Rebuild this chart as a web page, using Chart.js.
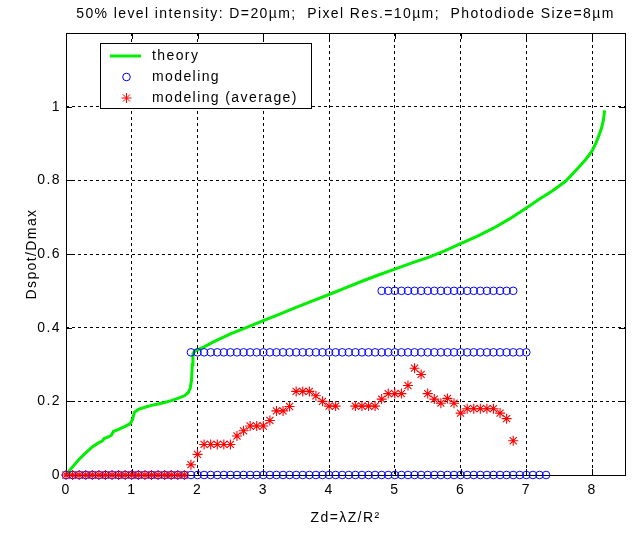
<!DOCTYPE html>
<html>
<head>
<meta charset="utf-8">
<title>Dspot/Dmax vs Zd</title>
<script src="https://cdn.jsdelivr.net/npm/chart.js@4/dist/chart.umd.min.js"></script>
<style>
  html, body { margin: 0; padding: 0; background: #fff; }
  #wrap { width: 632px; height: 533px; }
</style>
</head>
<body>
<div id="wrap"><canvas id="spotChart" width="632" height="533"></canvas></div>
<script>
// Normalised spot size against Zd = lambda*Z/R^2
const FONT = "'Liberation Sans', Arial, Helvetica, sans-serif";
const LETTER_SPACING = '1.4px';

// theory curve
const theoryZd = [0.02, 0.1, 0.2, 0.3, 0.4, 0.5, 0.55, 0.58, 0.65, 0.69, 0.72, 0.8, 0.9, 0.98, 1.01, 1.04,
  1.1, 1.2, 1.3, 1.4, 1.5, 1.6, 1.7, 1.8, 1.86, 1.89, 1.91, 1.92, 1.93, 1.95, 2.0, 2.1, 2.25, 2.5, 2.75,
  3.0, 3.25, 3.5, 3.75, 4.0, 4.25, 4.5, 4.75, 5.0, 5.25, 5.5, 5.75, 6.0, 6.25, 6.5, 6.75, 7.0, 7.2, 7.4,
  7.6, 7.8, 7.9, 8.0, 8.05, 8.1, 8.14, 8.17, 8.19];
const theoryD = [0.005, 0.022, 0.043, 0.06, 0.076, 0.088, 0.092, 0.099, 0.104, 0.108, 0.118, 0.124, 0.132, 0.14, 0.15, 0.17,
  0.178, 0.184, 0.189, 0.193, 0.197, 0.202, 0.208, 0.215, 0.224, 0.236, 0.26, 0.3, 0.328, 0.335, 0.34, 0.348, 0.362, 0.383, 0.401,
  0.419, 0.437, 0.455, 0.473, 0.49, 0.508, 0.526, 0.543, 0.559, 0.575, 0.59, 0.608, 0.628, 0.648, 0.67, 0.696, 0.725, 0.749, 0.772,
  0.798, 0.836, 0.856, 0.88, 0.898, 0.92, 0.94, 0.962, 0.99];

// sampled Zd positions for the modeling runs
const zd = [
  0.0, 0.1, 0.2, 0.3, 0.4, 0.5, 0.6, 0.7, 0.8, 0.9,
  1.0, 1.1, 1.2, 1.3, 1.4, 1.5, 1.6, 1.7, 1.8, 1.9,
  2.0, 2.1, 2.2, 2.3, 2.4, 2.5, 2.6, 2.7, 2.8, 2.9,
  3.0, 3.1, 3.2, 3.3, 3.4, 3.5, 3.6, 3.7, 3.8, 3.9,
  4.0, 4.1, 4.2, 4.3, 4.4, 4.5, 4.6, 4.7, 4.8, 4.9,
  5.0, 5.1, 5.2, 5.3, 5.4, 5.5, 5.6, 5.7, 5.8, 5.9,
  6.0, 6.1, 6.2, 6.3, 6.4, 6.5, 6.6, 6.7, 6.8, 6.9,
  7.0, 7.1, 7.2, 7.3
];
const _ = null;
const modelingLow = [
  0, 0, 0, 0, 0, 0, 0, 0, 0, 0,
  0, 0, 0, 0, 0, 0, 0, 0, 0, 0,
  0, 0, 0, 0, 0, 0, 0, 0, 0, 0,
  0, 0, 0, 0, 0, 0, 0, 0, 0, 0,
  0, 0, 0, 0, 0, 0, 0, 0, 0, 0,
  0, 0, 0, 0, 0, 0, 0, 0, 0, 0,
  0, 0, 0, 0, 0, 0, 0, 0, 0, 0,
  0, 0, 0, 0
];
const modelingMid = [
  _, _, _, _, _, _, _, _, _, _,
  _, _, _, _, _, _, _, _, _, 0.333,
  0.333, 0.333, 0.333, 0.333, 0.333, 0.333, 0.333, 0.333, 0.333, 0.333,
  0.333, 0.333, 0.333, 0.333, 0.333, 0.333, 0.333, 0.333, 0.333, 0.333,
  0.333, 0.333, 0.333, 0.333, 0.333, 0.333, 0.333, 0.333, 0.333, 0.333,
  0.333, 0.333, 0.333, 0.333, 0.333, 0.333, 0.333, 0.333, 0.333, 0.333,
  0.333, 0.333, 0.333, 0.333, 0.333, 0.333, 0.333, 0.333, 0.333, 0.333,
  0.333, _, _, _
];
const modelingHigh = [
  _, _, _, _, _, _, _, _, _, _,
  _, _, _, _, _, _, _, _, _, _,
  _, _, _, _, _, _, _, _, _, _,
  _, _, _, _, _, _, _, _, _, _,
  _, _, _, _, _, _, _, _, 0.5, 0.5,
  0.5, 0.5, 0.5, 0.5, 0.5, 0.5, 0.5, 0.5, 0.5, 0.5,
  0.5, 0.5, 0.5, 0.5, 0.5, 0.5, 0.5, 0.5, 0.5, _,
  _, _, _, _
];
const modelingAvg = [
  0, 0, 0, 0, 0, 0, 0, 0, 0, 0,
  0, 0, 0, 0, 0, 0, 0, 0, 0, 0.028,
  0.056, 0.083, 0.083, 0.083, 0.083, 0.083, 0.106, 0.12, 0.133, 0.133,
  0.133, 0.148, 0.174, 0.174, 0.186, 0.227, 0.227, 0.227, 0.215, 0.2,
  0.187, 0.187, _, _, 0.187, 0.187, 0.187, 0.187, 0.206, 0.221,
  0.221, 0.221, 0.243, 0.29, 0.273, 0.221, 0.206, 0.195, 0.208, 0.195,
  0.168, 0.18, 0.18, 0.18, 0.18, 0.18, 0.168, 0.153, 0.093, _,
  _, _, _, _
];

const xTicks = [0, 1, 2, 3, 4, 5, 6, 7, 8];
const yTicks = [0, 0.2, 0.4, 0.6, 0.8, 1];
const yTickLabels = ['0', '0.2', '0.4', '0.6', '0.8', '1'];

const chartTitle = '50% level intensity: D=20\u00b5m;  Pixel Res.=10\u00b5m;  Photodiode Size=8\u00b5m';

function toPoints(xs, ys) {
  return xs.map((x, i) => ({ x: x, y: ys[i] })).filter(p => p.y !== null && p.y !== undefined);
}

const modelingPoints = toPoints(zd, modelingLow)
  .concat(toPoints(zd, modelingMid))
  .concat(toPoints(zd, modelingHigh));

// box, inner ticks, title and legend drawn on top of the chart
const framePlugin = {
  id: 'frame',
  beforeDraw(chart) {
    // slightly wider text, like the original plotting tool
    chart.ctx.letterSpacing = LETTER_SPACING;
  },
  beforeDatasetsDraw(chart) {
    const { ctx, chartArea: a, scales } = chart;
    ctx.save();
    ctx.strokeStyle = '#000';
    ctx.lineWidth = 1;
    ctx.strokeRect(Math.round(a.left) + 0.5, Math.round(a.top) + 0.5,
      Math.round(a.right - a.left), Math.round(a.bottom - a.top));
    ctx.beginPath();
    xTicks.forEach(v => {
      const px = Math.round(scales.x.getPixelForValue(v)) + 0.5;
      ctx.moveTo(px, a.top); ctx.lineTo(px, a.top + 6);
      ctx.moveTo(px, a.bottom); ctx.lineTo(px, a.bottom - 6);
    });
    yTicks.forEach(v => {
      const py = Math.round(scales.y.getPixelForValue(v)) + 0.5;
      ctx.moveTo(a.left, py); ctx.lineTo(a.left + 6, py);
      ctx.moveTo(a.right, py); ctx.lineTo(a.right - 6, py);
    });
    ctx.stroke();
    ctx.restore();
  },
  afterDraw(chart) {
    const { ctx, chartArea: a } = chart;
    ctx.save();
    ctx.letterSpacing = LETTER_SPACING;
    ctx.fillStyle = '#000';
    ctx.font = '14px ' + FONT;
    ctx.textAlign = 'center';
    ctx.textBaseline = 'middle';
    ctx.fillText(chartTitle, (a.left + a.right) / 2, 14);

    // legend
    const lx = 100, ly = 43, lw = 211, lh = 65;
    ctx.fillStyle = '#fff';
    ctx.fillRect(lx, ly, lw, lh);
    ctx.strokeStyle = '#000';
    ctx.lineWidth = 1;
    ctx.strokeRect(lx + 0.5, ly + 0.5, lw, lh);

    ctx.strokeStyle = '#00ee00';
    ctx.lineWidth = 3;
    ctx.beginPath();
    ctx.moveTo(110, 56); ctx.lineTo(141, 56);
    ctx.stroke();

    ctx.strokeStyle = '#0000ff';
    ctx.lineWidth = 1;
    ctx.beginPath();
    ctx.arc(126.5, 77, 3.8, 0, Math.PI * 2);
    ctx.stroke();

    ctx.strokeStyle = '#ff0000';
    ctx.beginPath();
    const sx = 126.5, sy = 98, r = 5, d = r * Math.SQRT1_2;
    ctx.moveTo(sx - r, sy); ctx.lineTo(sx + r, sy);
    ctx.moveTo(sx, sy - r); ctx.lineTo(sx, sy + r);
    ctx.moveTo(sx - d, sy - d); ctx.lineTo(sx + d, sy + d);
    ctx.moveTo(sx - d, sy + d); ctx.lineTo(sx + d, sy - d);
    ctx.stroke();

    ctx.fillStyle = '#000';
    ctx.textAlign = 'left';
    ctx.fillText('theory', 152, 56);
    ctx.fillText('modeling', 152, 77);
    ctx.fillText('modeling (average)', 152, 98);
    ctx.restore();
  }
};

const gridColor = c => (c.tick && c.tick.value === 0) ? 'rgba(0,0,0,0)' : '#000';

const ctx = document.getElementById('spotChart').getContext('2d');
const spotChart = new Chart(ctx, {
  type: 'scatter',
  data: {
    datasets: [
      {
        label: 'modeling (average)',
        data: toPoints(zd, modelingAvg),
        pointStyle: 'star',
        pointRadius: 5,
        pointBorderWidth: 1.1,
        borderColor: '#ff0000',
        backgroundColor: '#ff0000',
        showLine: false,
        clip: false,
        order: 0
      },
      {
        label: 'modeling',
        data: modelingPoints,
        pointStyle: 'circle',
        pointRadius: 3.8,
        pointBorderWidth: 1,
        borderColor: '#0000ff',
        backgroundColor: 'rgba(0,0,0,0)',
        showLine: false,
        clip: false,
        order: 1
      },
      {
        label: 'theory',
        data: toPoints(theoryZd, theoryD),
        showLine: true,
        borderColor: '#00ee00',
        borderWidth: 3,
        pointRadius: 0,
        tension: 0,
        clip: false,
        order: 2
      }
    ]
  },
  options: {
    responsive: false,
    animation: false,
    devicePixelRatio: 1,
    layout: { padding: { left: 0, right: 7, top: 33, bottom: 0 } },
    plugins: {
      legend: { display: false },
      tooltip: { enabled: false }
    },
    scales: {
      x: {
        type: 'linear',
        min: 0,
        max: 8.5,
        afterBuildTicks: s => { s.ticks = xTicks.map(v => ({ value: v })); },
        afterFit: s => { s.height = 58; },
        grid: { color: gridColor, lineWidth: 1, drawTicks: false },
        border: { display: false, dash: [3, 3] },
        ticks: {
          color: '#000',
          font: { family: FONT, size: 14 },
          padding: 7,
          maxRotation: 0,
          autoSkip: false,
          callback: v => String(v)
        },
        title: {
          display: true,
          text: 'Zd=\u03bbZ/R\u00b2',
          color: '#000',
          font: { family: FONT, size: 14 },
          padding: { top: 0, bottom: 6 }
        }
      },
      y: {
        type: 'linear',
        min: 0,
        max: 1.2,
        afterBuildTicks: s => { s.ticks = yTicks.map(v => ({ value: v })); },
        afterFit: s => { s.width = 66; },
        grid: { color: gridColor, lineWidth: 1, drawTicks: false },
        border: { display: false, dash: [3, 3] },
        ticks: {
          color: '#000',
          font: { family: FONT, size: 14 },
          padding: 5,
          autoSkip: false,
          callback: (v, i) => yTickLabels[i]
        },
        title: {
          display: true,
          text: 'Dspot/Dmax',
          color: '#000',
          font: { family: FONT, size: 14 },
          padding: { top: 24, bottom: 0 }
        }
      }
    }
  },
  plugins: [framePlugin]
});
</script>
</body>
</html>
